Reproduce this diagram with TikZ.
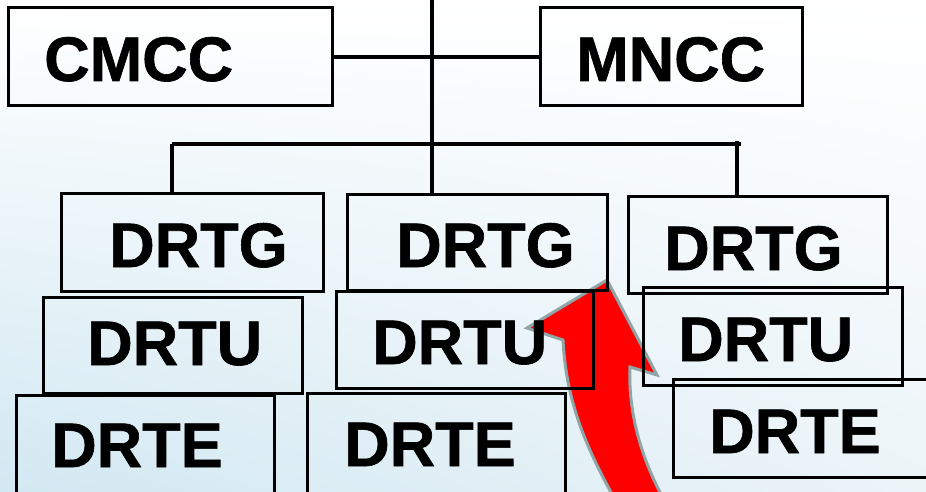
\documentclass[tikz,border=0pt]{standalone}
\usepackage{fontspec}
\setmainfont{Liberation Sans}[BoldFeatures={FakeBold=1}]
\usepackage{tikz}
\usetikzlibrary{positioning}
\usetikzlibrary{shadings}

\definecolor{bgblue}{RGB}{210,232,242}
\definecolor{bgpale}{RGB}{236,244,248}
\definecolor{arrowgray}{RGB}{143,165,168}

\tikzset{
  unit/.style={draw, line width=3pt, inner sep=0pt, minimum width=#1, minimum height=97pt},
  unit/.default=259pt,
  unitname/.style={anchor=base west, inner sep=0pt, font=\bfseries\fontsize{63}{63}\selectfont},
  link/.style={line width=4pt}
}

\begin{document}
\begin{tikzpicture}[x=1pt,y=-1pt]
\useasboundingbox (0,0) rectangle (926,492);
\clip (0,0) rectangle (926,492);
\shade[upper left=white, upper right=white, lower left=bgblue, lower right=bgpale] (0,0) rectangle (926,492);

% red arrow, behind the boxes
\draw[arrowgray, fill=red, line width=3pt, line join=miter]
  (613,496) .. controls (585,445) and (566,400) .. (563,340) -- (527,328) -- (607,280)
  -- (657,375) -- (630,367) .. controls (628,410) and (640,455) .. (662,496) -- cycle;

% top level
\node[unit=324pt, minimum height=98pt] (cmcc) at (170,57) {};
\node[unit=262pt, minimum height=98pt] (mncc) at (671,57) {};
\node[unitname] (cmcc-t) at (44,81) {CMCC};
\node[unitname] (mncc-t) at (576,81) {MNCC};

% DRTG row
\node[unit=262pt, minimum height=98pt] (g1) at (192,242) {};
\node[unit=260pt, minimum height=96pt] (g2) at (477,242) {};
\node[unit] (g3) at (757.5,244.5) {};
\node[unitname] (g1-t) at (109,267) {DRTG};
\node[unitname] (g2-t) at (396,267) {DRTG};
\node[unitname] (g3-t) at (664,270) {DRTG};

% DRTU row
\node[unit, minimum height=96pt] (u1) at (172.5,345) {};
\node[unit=257pt] (u2) at (464.5,339.5) {};
\node[unit, minimum height=98pt] (u3) at (772.5,336) {};
\node[unitname] (u1-t) at (87,365) {DRTU};
\node[unitname] (u2-t) at (372,364) {DRTU};
\node[unitname] (u3-t) at (678,361) {DRTU};

% DRTE row
\node[unit=258pt, minimum height=100pt] (e1) at (145,445) {};
\node[unit=258pt, minimum height=100pt] (e2) at (436,443) {};
\node[unit=262pt, minimum height=98pt] (e3) at (804,428) {};
\node[unitname] (e1-t) at (51,467) {DRTE};
\node[unitname] (e2-t) at (344,466) {DRTE};
\node[unitname] (e3-t) at (709,453) {DRTE};

% connectors
\coordinate (top) at (432,0);
\coordinate (busL) at (172,144);
\coordinate (busR) at (741,144);
\coordinate (tick) at (737,141);
\draw[link] (top) -- (top |- g2.north);
\draw[link] (cmcc) -- (mncc);
\draw[link] (busL) -- (busR);
\draw[link] (busL) -- (busL |- g1.north);
\draw[link] (tick) -- (tick |- g3.north);
\end{tikzpicture}
\end{document}
